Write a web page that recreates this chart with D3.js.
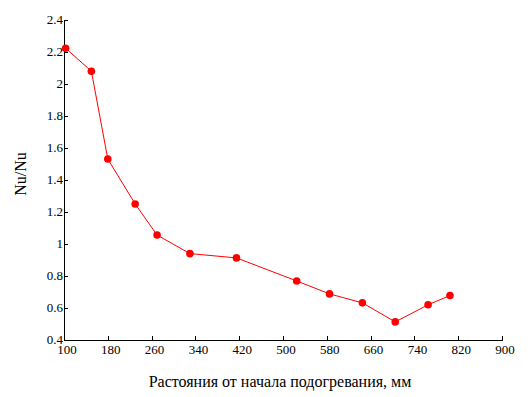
<!DOCTYPE html>
<html>
<head>
<meta charset="utf-8">
<script src="https://cdn.jsdelivr.net/npm/d3@7"></script>
<style>
  body { margin: 0; background: #fff; }
  svg { display: block; }
  .axis text { font-family: "Liberation Serif", "Times New Roman", serif; font-size: 13px; fill: #000; }
  .axis path, .axis line { stroke: #000; shape-rendering: crispEdges; }
  .title { font-family: "Liberation Serif", "Times New Roman", serif; font-size: 16px; fill: #000; }
</style>
</head>
<body>
<svg id="chart" width="530" height="397"></svg>
<script>
//-----------------------------------------------------------------------------
// DATA
var distances = [103, 150, 180, 230, 270, 330, 415, 525, 585, 645, 705, 765, 805];
var nuRatio   = [2.22, 2.077, 1.528, 1.247, 1.053, 0.937, 0.91, 0.766, 0.685, 0.629, 0.51, 0.617, 0.675];
var xTicks    = [100, 180, 260, 340, 420, 500, 580, 660, 740, 820, 900];
var yTicks    = [0.4, 0.6, 0.8, 1, 1.2, 1.4, 1.6, 1.8, 2, 2.2, 2.4];
var xTitle    = "Растояния от начала подогревания, мм";
var yTitle    = "Nu/Nu";
//-----------------------------------------------------------------------------
// LAYOUT
var plotLeft = 64, plotRight = 502, plotTop = 19.5, plotBottom = 339.5;

var svg = d3.select("#chart");

var x = d3.scaleLinear().domain([100, 900]).range([plotLeft, plotRight]);
var y = d3.scaleLinear().domain([0.4, 2.4]).range([plotBottom, plotTop]);

var points = distances.map(function(d, i){ return {x: d, y: nuRatio[i]}; });

//-----------------------------------------------------------------------------
// AXES
var gx = svg.append("g")
  .attr("class", "axis")
  .attr("transform", "translate(0," + plotBottom + ")")
  .call(d3.axisBottom(x).tickValues(xTicks).tickFormat(d3.format("d"))
          .tickSizeInner(-4).tickSizeOuter(0).tickPadding(5));
gx.selectAll("text").attr("dx", "2.5");

var gy = svg.append("g")
  .attr("class", "axis")
  .attr("transform", "translate(" + plotLeft + ",0)")
  .call(d3.axisLeft(y).tickValues(yTicks).tickFormat(function(d){ return String(+d.toFixed(1)); })
          .tickSizeInner(-4).tickSizeOuter(0).tickPadding(1));

//-----------------------------------------------------------------------------
// SERIES
var line = d3.line()
  .x(function(d){ return x(d.x); })
  .y(function(d){ return y(d.y); });

svg.append("path")
  .datum(points)
  .attr("d", line)
  .attr("fill", "none")
  .attr("stroke", "#ff0000")
  .attr("stroke-width", 1);

svg.selectAll("circle.pt")
  .data(points)
  .enter()
  .append("circle")
  .attr("class", "pt")
  .attr("cx", function(d){ return x(d.x); })
  .attr("cy", function(d){ return y(d.y); })
  .attr("r", 3.8)
  .attr("fill", "#ff0000");

//-----------------------------------------------------------------------------
// TITLES
svg.append("text")
  .attr("class", "title")
  .attr("x", 280)
  .attr("y", 387)
  .attr("text-anchor", "middle")
  .text(xTitle);

svg.append("text")
  .attr("class", "title")
  .attr("transform", "translate(26,174) rotate(-90)")
  .attr("text-anchor", "middle")
  .text(yTitle);
</script>
</body>
</html>
